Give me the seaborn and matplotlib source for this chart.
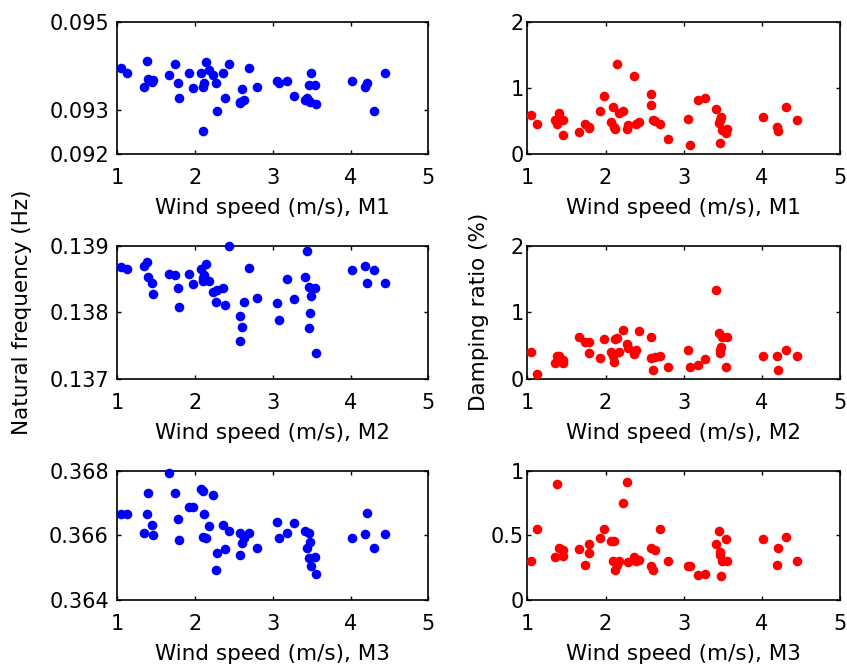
import matplotlib
matplotlib.use('Agg')
import matplotlib.pyplot as plt
import pandas as pd
import seaborn as sns

# wind speed (m/s), shared by all six panels
wind = [1.043, 1.120, 1.348, 1.378, 1.399, 1.451, 1.455, 1.665, 1.738, 1.785,
        1.790, 1.927, 1.979, 2.073, 2.099, 2.103, 2.120, 2.146, 2.176, 2.227,
        2.270, 2.288, 2.365, 2.386, 2.433, 2.579, 2.583, 2.605, 2.631, 2.700,
        2.794, 3.052, 3.082, 3.180, 3.275, 3.412, 3.446, 3.459, 3.468, 3.472,
        3.489, 3.545, 3.550, 4.017, 4.189, 4.210, 4.305, 4.446]

# natural frequency (Hz)
freq_m1 = [0.09396, 0.09383, 0.09353, 0.09412, 0.09369, 0.09364, 0.09368, 0.09378, 0.09404, 0.09362,
           0.09328, 0.09383, 0.09349, 0.09383, 0.09251, 0.09353, 0.09362, 0.09408, 0.09390, 0.09378,
           0.09362, 0.09298, 0.09383, 0.09328, 0.09404, 0.09315, 0.09317, 0.09348, 0.09322, 0.09395,
           0.09353, 0.09366, 0.09362, 0.09366, 0.09331, 0.09322, 0.09326, 0.09321, 0.09356, 0.09317,
           0.09383, 0.09356, 0.09313, 0.09366, 0.09353, 0.09362, 0.09298, 0.09383]
freq_m2 = [0.138675, 0.138645, 0.138695, 0.13876, 0.13853, 0.138435, 0.138275, 0.13858, 0.138555, 0.13836,
           0.13808, 0.13858, 0.13842, 0.138645, 0.13847, 0.13852, 0.13856, 0.138725, 0.13847, 0.1383,
           0.13816, 0.13833, 0.13836, 0.13811, 0.139, 0.13794, 0.137575, 0.137775, 0.13816, 0.13867,
           0.13822, 0.138135, 0.13788, 0.1385, 0.138195, 0.138525, 0.13892, 0.13777, 0.138385, 0.137995,
           0.138245, 0.13836, 0.137385, 0.13864, 0.1387, 0.13844, 0.13864, 0.13844]
freq_m3 = [0.36666, 0.36666, 0.36608, 0.36666, 0.3673, 0.36632, 0.3660, 0.36792, 0.3673, 0.36652,
           0.36585, 0.36688, 0.36688, 0.36745, 0.36738, 0.36595, 0.36666, 0.3659, 0.3663, 0.36724,
           0.36492, 0.36544, 0.36632, 0.36556, 0.36613, 0.36608, 0.36539, 0.36575, 0.3659, 0.36608,
           0.36562, 0.36642, 0.3659, 0.36608, 0.36637, 0.36613, 0.36562, 0.36528, 0.36608, 0.3658,
           0.36504, 0.36533, 0.3648, 0.3659, 0.36603, 0.3667, 0.36562, 0.36603]

# damping ratio (%)
damp_m1 = [0.589, 0.453, 0.514, 0.453, 0.625, 0.514, 0.282, 0.338, 0.453, 0.393,
           0.413, 0.655, 0.877, 0.484, 0.705, 0.413, 0.383, 1.355, 0.615, 0.655,
           0.373, 0.438, 1.184, 0.453, 0.489, 0.907, 0.736, 0.514, 0.504, 0.453,
           0.227, 0.534, 0.141, 0.821, 0.846, 0.680, 0.463, 0.171, 0.514, 0.564,
           0.363, 0.312, 0.373, 0.564, 0.403, 0.343, 0.705, 0.514]
damp_m2 = [0.41, 0.07, 0.235, 0.35, 0.35, 0.235, 0.285, 0.635, 0.56, 0.55,
           0.385, 0.32, 0.60, 0.41, 0.35, 0.26, 0.60, 0.61, 0.41, 0.74,
           0.52, 0.47, 0.38, 0.435, 0.715, 0.635, 0.32, 0.13, 0.33, 0.35,
           0.18, 0.435, 0.18, 0.21, 0.295, 1.335, 0.695, 0.385, 0.435, 0.485,
           0.63, 0.18, 0.63, 0.35, 0.35, 0.13, 0.435, 0.35]
damp_m3 = [0.304, 0.546, 0.330, 0.894, 0.399, 0.387, 0.343, 0.392, 0.273, 0.430,
           0.361, 0.477, 0.546, 0.459, 0.304, 0.459, 0.232, 0.273, 0.304, 0.747,
           0.910, 0.289, 0.330, 0.304, 0.309, 0.399, 0.258, 0.232, 0.387, 0.546,
           0.304, 0.258, 0.258, 0.188, 0.201, 0.430, 0.534, 0.374, 0.348, 0.186,
           0.304, 0.474, 0.304, 0.474, 0.273, 0.402, 0.490, 0.304]

modes = ['M1', 'M2', 'M3']
freq_ticks = [[0.092, 0.093, 0.095], [0.137, 0.138, 0.139], [0.364, 0.366, 0.368]]
freq_ticklabels = [['0.092', '0.093', '0.095'], ['0.137', '0.138', '0.139'], ['0.364', '0.366', '0.368']]
damp_ticks = [[0, 1, 2], [0, 1, 2], [0, 0.5, 1]]
damp_ticklabels = [['0', '1', '2'], ['0', '1', '2'], ['0', '0.5', '1']]
xticks = [1, 2, 3, 4, 5]

df = pd.DataFrame({'wind': wind,
                   'f_M1': freq_m1, 'f_M2': freq_m2, 'f_M3': freq_m3,
                   'd_M1': damp_m1, 'd_M2': damp_m2, 'd_M3': damp_m3})

sns.set_style('ticks')
plt.rcParams['font.family'] = ['DejaVu Sans']
plt.rcParams['font.size'] = 15
plt.rcParams['text.color'] = 'black'
plt.rcParams['axes.labelcolor'] = 'black'
plt.rcParams['xtick.color'] = 'black'
plt.rcParams['ytick.color'] = 'black'

fig = plt.figure(figsize=(8.47, 6.68), dpi=100)

# axes boxes in figure fractions
col_left = [0.1385, 0.6226]
col_width = [0.3672, 0.3692]
row_bottom = [0.7695, 0.4326, 0.1022]
row_height = [0.198, 0.1996, 0.193]

for r, mode in enumerate(modes):
    for c in range(2):
        ax = fig.add_axes([col_left[c], row_bottom[r], col_width[c], row_height[r]])
        if c == 0:
            col, color = 'f_' + mode, 'blue'
            yt, ytl = freq_ticks[r], freq_ticklabels[r]
        else:
            col, color = 'd_' + mode, 'red'
            yt, ytl = damp_ticks[r], damp_ticklabels[r]
        sns.scatterplot(data=df, x='wind', y=col, color=color, s=48,
                        linewidth=0, ax=ax, clip_on=False, zorder=3)
        ax.set_xlim(1, 5)
        ax.set_ylim(yt[0], yt[-1])
        ax.set_xticks(xticks)
        ax.set_xticklabels([str(t) for t in xticks])
        ax.set_yticks(yt)
        ax.set_yticklabels(ytl)
        ax.tick_params(direction='in', top=True, right=True, length=3,
                       width=1, labelsize=15)
        ax.tick_params(axis='x', pad=10)
        ax.tick_params(axis='y', pad=6 if c == 0 else 2.5)
        for sp in ax.spines.values():
            sp.set_linewidth(1.2)
            sp.set_color('black')
        ax.set_xlabel('Wind speed (m/s), ' + mode, fontsize=15.5, labelpad=7.5)
        ax.set_ylabel('')

fig.text(22 / 847, 1 - 312 / 668, 'Natural frequency (Hz)', rotation=90,
         ha='center', va='center', fontsize=15.5)
fig.text(479 / 847, 1 - 312 / 668, 'Damping ratio (%)', rotation=90,
         ha='center', va='center', fontsize=15.5)

fig.savefig('out.png', dpi=100)
